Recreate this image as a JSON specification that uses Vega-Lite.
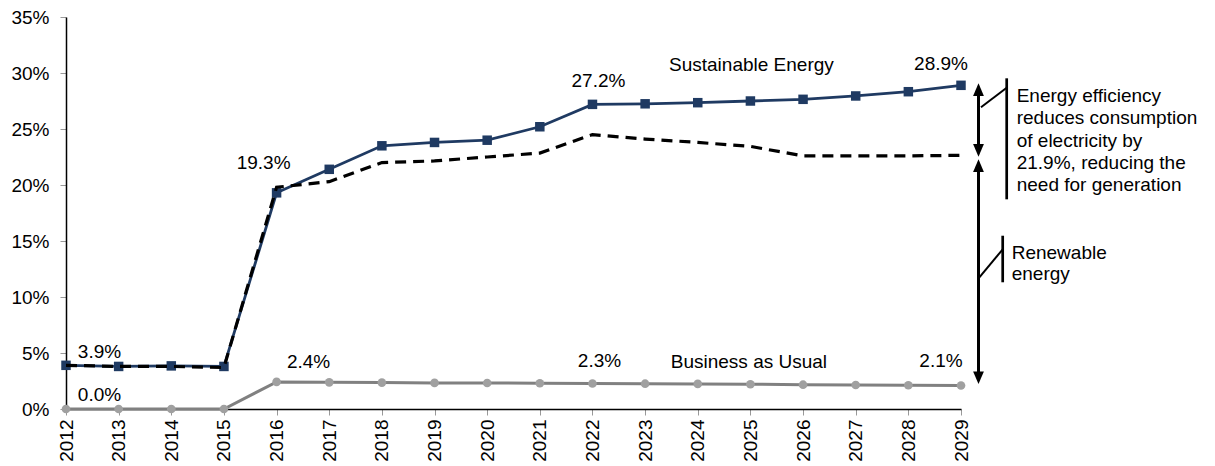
{
  "$schema": "https://vega.github.io/schema/vega-lite/v6.json",
  "width": 895,
  "height": 392,
  "autosize": {"type": "none"},
  "padding": {"left": 66, "top": 17, "right": 254, "bottom": 57},
  "background": "white",
  "config": {
    "view": {"stroke": null},
    "font": "Liberation Sans",
    "text": {"font": "Liberation Sans", "fontSize": 19, "color": "#000000"}
  },
  "datasets": {
    "se": [
      {"year": 2012, "value": 0.039}, {"year": 2013, "value": 0.038}, {"year": 2014, "value": 0.0385},
      {"year": 2015, "value": 0.038}, {"year": 2016, "value": 0.193}, {"year": 2017, "value": 0.214},
      {"year": 2018, "value": 0.235}, {"year": 2019, "value": 0.238}, {"year": 2020, "value": 0.240},
      {"year": 2021, "value": 0.252}, {"year": 2022, "value": 0.272}, {"year": 2023, "value": 0.2725},
      {"year": 2024, "value": 0.2735}, {"year": 2025, "value": 0.275}, {"year": 2026, "value": 0.2765},
      {"year": 2027, "value": 0.2795}, {"year": 2028, "value": 0.2833}, {"year": 2029, "value": 0.289}
    ],
    "eff": [
      {"year": 2012, "value": 0.039}, {"year": 2013, "value": 0.038}, {"year": 2014, "value": 0.038},
      {"year": 2015, "value": 0.037}, {"year": 2016, "value": 0.198}, {"year": 2017, "value": 0.203},
      {"year": 2018, "value": 0.220}, {"year": 2019, "value": 0.2215}, {"year": 2020, "value": 0.225},
      {"year": 2021, "value": 0.2285}, {"year": 2022, "value": 0.245}, {"year": 2023, "value": 0.241},
      {"year": 2024, "value": 0.238}, {"year": 2025, "value": 0.2345}, {"year": 2026, "value": 0.226},
      {"year": 2027, "value": 0.226}, {"year": 2028, "value": 0.226}, {"year": 2029, "value": 0.2265}
    ],
    "bau": [
      {"year": 2012, "value": 0.0}, {"year": 2013, "value": 0.0}, {"year": 2014, "value": 0.0},
      {"year": 2015, "value": 0.0}, {"year": 2016, "value": 0.0242}, {"year": 2017, "value": 0.0238},
      {"year": 2018, "value": 0.0236}, {"year": 2019, "value": 0.0233}, {"year": 2020, "value": 0.0232},
      {"year": 2021, "value": 0.0230}, {"year": 2022, "value": 0.0228}, {"year": 2023, "value": 0.0226},
      {"year": 2024, "value": 0.0224}, {"year": 2025, "value": 0.0221}, {"year": 2026, "value": 0.0217},
      {"year": 2027, "value": 0.0214}, {"year": 2028, "value": 0.0212}, {"year": 2029, "value": 0.0210}
    ],
    "gaps": [
      {"year": 2029, "part": "efficiency", "top": 0.289, "bottom": 0.2265},
      {"year": 2029, "part": "renewable", "top": 0.2265, "bottom": 0.021}
    ]
  },
  "encoding": {
    "x": {
      "field": "year", "type": "quantitative",
      "scale": {"domain": [2012, 2029], "nice": false, "zero": false},
      "axis": {
        "title": null, "grid": false,
        "values": [2012,2013,2014,2015,2016,2017,2018,2019,2020,2021,2022,2023,2024,2025,2026,2027,2028,2029],
        "format": "d", "labelAngle": -90, "labelAlign": "right", "labelBaseline": "middle",
        "labelFont": "Liberation Sans", "labelFontSize": 19, "labelColor": "#000000",
        "labelPadding": 4, "tickSize": 6, "tickColor": "#999999", "tickWidth": 1,
        "domainColor": "#000000", "domainWidth": 1.5, "labelFlush": false, "labelOverlap": false
      }
    },
    "y": {
      "field": "value", "type": "quantitative",
      "scale": {"domain": [0, 0.35], "nice": false},
      "axis": {
        "title": null, "grid": false,
        "values": [0, 0.05, 0.1, 0.15, 0.2, 0.25, 0.3, 0.35],
        "format": ".0%", "labelFont": "Liberation Sans", "labelFontSize": 19, "labelColor": "#000000",
        "labelPadding": 11, "tickSize": 6, "tickColor": "#999999", "tickWidth": 1,
        "domainColor": "#000000", "domainWidth": 1.5, "labelFlush": false, "labelOverlap": false
      }
    }
  },
  "layer": [
    {
      "data": {"name": "bau"},
      "mark": {"type": "line", "color": "#808080", "strokeWidth": 3,
               "point": {"filled": true, "color": "#A0A0A0", "size": 75, "shape": "circle"}}
    },
    {
      "data": {"name": "se"},
      "mark": {"type": "line", "color": "#1F3A62", "strokeWidth": 2.8,
               "point": {"filled": true, "color": "#1F3A62", "size": 90, "shape": "square"}}
    },
    {
      "data": {"name": "eff"},
      "mark": {"type": "line", "color": "#000000", "strokeWidth": 3.2, "strokeDash": [11, 7]}
    },
    {
      "data": {"name": "se"},
      "transform": [{"filter": "datum.year == 2012"}],
      "mark": {"type": "text", "dx": 33.5, "dy": -13, "baseline": "middle", "align": "center"},
      "encoding": {"text": {"field": "value", "format": ".1%"}}
    },
    {
      "data": {"name": "se"},
      "transform": [{"filter": "datum.year == 2016"}],
      "mark": {"type": "text", "dx": -13, "dy": -30, "baseline": "middle", "align": "center"},
      "encoding": {"text": {"field": "value", "format": ".1%"}}
    },
    {
      "data": {"name": "se"},
      "transform": [{"filter": "datum.year == 2022"}],
      "mark": {"type": "text", "dx": 6, "dy": -23, "baseline": "middle", "align": "center"},
      "encoding": {"text": {"field": "value", "format": ".1%"}}
    },
    {
      "data": {"name": "se"},
      "transform": [{"filter": "datum.year == 2029"}],
      "mark": {"type": "text", "dx": -20, "dy": -21, "baseline": "middle", "align": "center"},
      "encoding": {"text": {"field": "value", "format": ".1%"}}
    },
    {
      "data": {"name": "se"},
      "transform": [{"filter": "datum.year == 2025"}],
      "mark": {"type": "text", "dx": 1, "dy": -36, "baseline": "middle", "align": "center", "text": "Sustainable Energy"}
    },
    {
      "data": {"name": "bau"},
      "transform": [{"filter": "datum.year == 2012"}],
      "mark": {"type": "text", "dx": 33.5, "dy": -14, "baseline": "middle", "align": "center"},
      "encoding": {"text": {"field": "value", "format": ".1%"}}
    },
    {
      "data": {"name": "bau"},
      "transform": [{"filter": "datum.year == 2016"}],
      "mark": {"type": "text", "dx": 32, "dy": -20, "baseline": "middle", "align": "center"},
      "encoding": {"text": {"field": "value", "format": ".1%"}}
    },
    {
      "data": {"name": "bau"},
      "transform": [{"filter": "datum.year == 2022"}],
      "mark": {"type": "text", "dx": 7, "dy": -22.6, "baseline": "middle", "align": "center"},
      "encoding": {"text": {"field": "value", "format": ".1%"}}
    },
    {
      "data": {"name": "bau"},
      "transform": [{"filter": "datum.year == 2029"}],
      "mark": {"type": "text", "dx": -20, "dy": -24, "baseline": "middle", "align": "center"},
      "encoding": {"text": {"field": "value", "format": ".1%"}}
    },
    {
      "data": {"name": "bau"},
      "transform": [{"filter": "datum.year == 2025"}],
      "mark": {"type": "text", "dx": -1.5, "dy": -22.7, "baseline": "middle", "align": "center", "text": "Business as Usual"}
    },
    {
      "data": {"name": "gaps"},
      "transform": [{"filter": "datum.part == 'efficiency'"}],
      "mark": {"type": "rule", "color": "#000000", "strokeWidth": 3, "xOffset": 17.5, "yOffset": 3, "y2Offset": -3.6},
      "encoding": {"y": {"field": "top", "type": "quantitative"}, "y2": {"field": "bottom"}}
    },
    {
      "data": {"name": "gaps"},
      "transform": [{"filter": "datum.part == 'renewable'"}],
      "mark": {"type": "rule", "color": "#000000", "strokeWidth": 3, "xOffset": 17.5, "yOffset": 9, "y2Offset": -6.5},
      "encoding": {"y": {"field": "top", "type": "quantitative"}, "y2": {"field": "bottom"}}
    },
    {
      "data": {"name": "gaps"},
      "transform": [{"filter": "datum.part == 'efficiency'"}],
      "mark": {"type": "point", "filled": true, "color": "#000000", "opacity": 1, "size": 144, "strokeWidth": 0,
               "shape": "M0,0L0.9,2.1L-0.9,2.1Z", "xOffset": 17.5, "yOffset": -2},
      "encoding": {"y": {"field": "top", "type": "quantitative"}}
    },
    {
      "data": {"name": "gaps"},
      "transform": [{"filter": "datum.part == 'efficiency'"}],
      "mark": {"type": "point", "filled": true, "color": "#000000", "opacity": 1, "size": 144, "strokeWidth": 0,
               "shape": "M0,0L0.9,-2.1L-0.9,-2.1Z", "xOffset": 17.5, "yOffset": 1.4},
      "encoding": {"y": {"field": "bottom", "type": "quantitative"}}
    },
    {
      "data": {"name": "gaps"},
      "transform": [{"filter": "datum.part == 'renewable'"}],
      "mark": {"type": "point", "filled": true, "color": "#000000", "opacity": 1, "size": 144, "strokeWidth": 0,
               "shape": "M0,0L0.9,2.1L-0.9,2.1Z", "xOffset": 17.5, "yOffset": 4},
      "encoding": {"y": {"field": "top", "type": "quantitative"}}
    },
    {
      "data": {"name": "gaps"},
      "transform": [{"filter": "datum.part == 'renewable'"}],
      "mark": {"type": "point", "filled": true, "color": "#000000", "opacity": 1, "size": 144, "strokeWidth": 0,
               "shape": "M0,0L0.9,-2.1L-0.9,-2.1Z", "xOffset": 17.5, "yOffset": -1.5},
      "encoding": {"y": {"field": "bottom", "type": "quantitative"}}
    },
    {
      "data": {"name": "gaps"},
      "transform": [{"filter": "datum.part == 'efficiency'"}],
      "mark": {"type": "rule", "color": "#000000", "strokeWidth": 2.7, "xOffset": 45.7, "yOffset": -7, "y2Offset": 44},
      "encoding": {"y": {"field": "top", "type": "quantitative"}, "y2": {"field": "bottom"}}
    },
    {
      "data": {"name": "gaps"},
      "transform": [{"filter": "datum.part == 'efficiency'"}],
      "mark": {"type": "rule", "color": "#000000", "strokeWidth": 2, "xOffset": 45.7, "x2Offset": 20, "yOffset": 2.4, "y2Offset": 22},
      "encoding": {"x2": {"field": "year"}, "y": {"field": "top", "type": "quantitative"}, "y2": {"field": "top"}}
    },
    {
      "data": {"name": "gaps"},
      "transform": [{"filter": "datum.part == 'renewable'"}],
      "mark": {"type": "rule", "color": "#000000", "strokeWidth": 2.7, "xOffset": 41.7, "yOffset": 80.4, "y2Offset": -103.2},
      "encoding": {"y": {"field": "top", "type": "quantitative"}, "y2": {"field": "bottom"}}
    },
    {
      "data": {"name": "gaps"},
      "transform": [{"filter": "datum.part == 'renewable'"}],
      "mark": {"type": "rule", "color": "#000000", "strokeWidth": 2, "xOffset": 41.7, "x2Offset": 16.7, "yOffset": 94, "y2Offset": 124},
      "encoding": {"x2": {"field": "year"}, "y": {"field": "top", "type": "quantitative"}, "y2": {"field": "top"}}
    },
    {
      "data": {"name": "gaps"},
      "transform": [{"filter": "datum.part == 'efficiency'"}],
      "mark": {"type": "text", "align": "left", "baseline": "middle", "lineHeight": 22.3, "dx": 55.7, "dy": 10.7,
               "text": ["Energy efficiency", "reduces consumption", "of electricity by", "21.9%, reducing the", "need for generation"]},
      "encoding": {"y": {"field": "top", "type": "quantitative"}}
    },
    {
      "data": {"name": "gaps"},
      "transform": [{"filter": "datum.part == 'renewable'"}],
      "mark": {"type": "text", "align": "left", "baseline": "middle", "lineHeight": 21.7, "dx": 50.7, "dy": 97.4,
               "text": ["Renewable", "energy"]},
      "encoding": {"y": {"field": "top", "type": "quantitative"}}
    }
  ]
}
